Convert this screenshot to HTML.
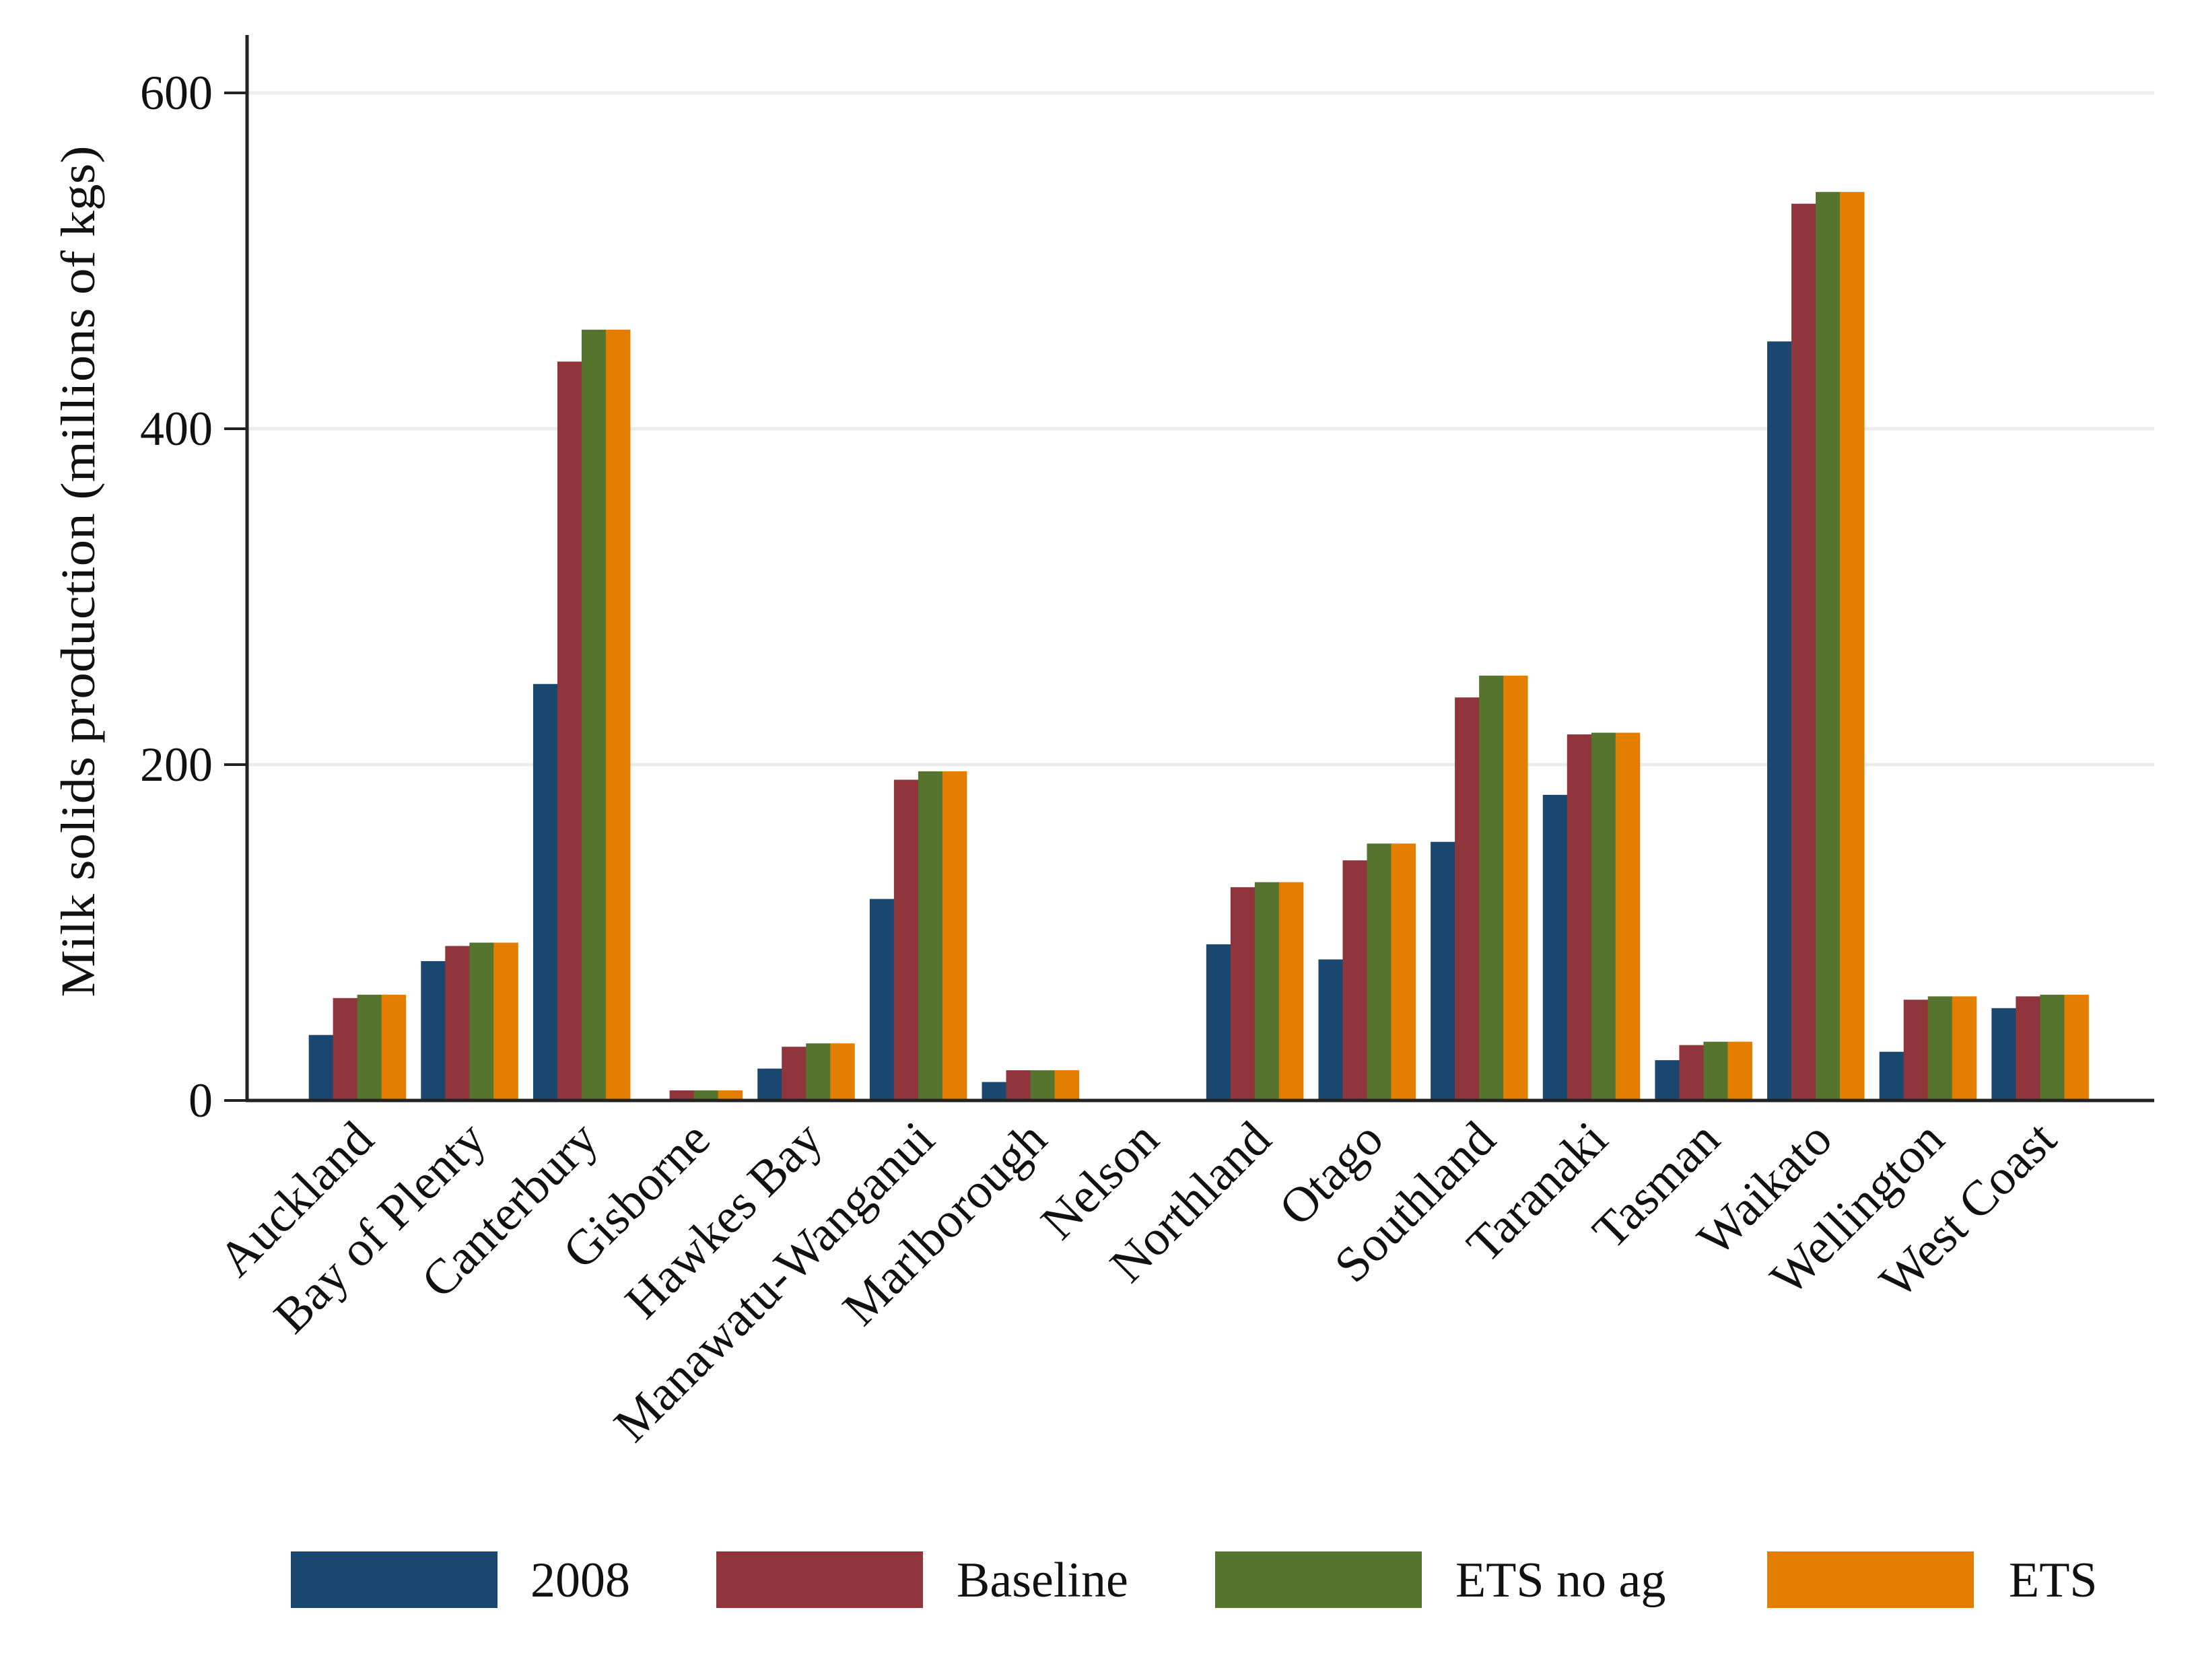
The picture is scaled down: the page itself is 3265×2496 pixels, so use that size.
<!DOCTYPE html>
<html><head><meta charset="utf-8"><style>
html,body{margin:0;padding:0;background:#fff;}
svg{display:block;}
text{font-family:"Liberation Serif",serif;fill:#111;}
</style></head><body>
<svg id="chart" width="3265" height="2496" viewBox="0 0 3265 2496" xmlns="http://www.w3.org/2000/svg">
<rect width="3265" height="2496" fill="#fff"/>
<g id="grid"></g>
<g id="bars"></g>
<g id="axes"></g>
<g id="xlabels"></g>
<text transform="translate(140,849) rotate(-90)" text-anchor="middle" font-size="72" textLength="1265" lengthAdjust="spacingAndGlyphs">Milk solids production (millions of kgs)</text>
<g id="legend"></g>
</svg>
<script>
const categories = ["Auckland","Bay of Plenty","Canterbury","Gisborne","Hawkes Bay","Manawatu-Wanganui","Marlborough","Nelson","Northland","Otago","Southland","Taranaki","Tasman","Waikato","Wellington","West Coast"];
const series2008 = [39,83,248,1,19,120,11,0,93,84,154,182,24,452,29,55];
const seriesBaseline = [61,92,440,6,32,191,18,0,127,143,240,218,33,534,60,62];
const seriesEtsNoAg = [63,94,459,6,34,196,18,0,130,153,253,219,35,541,62,63];
const seriesEts = [63,94,459,6,34,196,18,0,130,153,253,219,35,541,62,63];
const seriesNames = ["2008","Baseline","ETS no ag","ETS"];
const seriesColors = ["#1a476f","#90353b","#55752f","#e37e00"];
const yTicks = [0,200,400,600];

const NS="http://www.w3.org/2000/svg";
const X0=367, X1=3200, Y0=1635, PXPER=2.495;
const y = v => Y0 - v*PXPER;
const band = (X1-X0)/17;
const xc = i => X0 + band*(i+1) - 3;
const barW = 36;
function mk(tag, attrs, parent){const e=document.createElementNS(NS,tag);for(const k in attrs)e.setAttribute(k,attrs[k]);parent.appendChild(e);return e;}

const grid=document.getElementById('grid'), axes=document.getElementById('axes'), bars=document.getElementById('bars'), xl=document.getElementById('xlabels'), lg=document.getElementById('legend');

yTicks.forEach(t=>{
  if(t>0){const g=mk('line',{x1:X0,x2:X1,y1:y(t),y2:y(t),stroke:'#ececec','stroke-width':5},grid);
    
    }
  const tk=mk('line',{x1:333,x2:X0,y1:y(t),y2:y(t),stroke:'#222','stroke-width':4},axes);
  
  
  const lb=mk('text',{x:316,y:y(t)+24,'text-anchor':'end','font-size':72},axes);
  lb.textContent=t;
  
  
});
const ya=mk('line',{x1:X0,x2:X0,y1:52,y2:Y0+2,stroke:'#222','stroke-width':5},axes);



const allSeries=[series2008,seriesBaseline,seriesEtsNoAg,seriesEts];
categories.forEach((c,i)=>{
  allSeries.forEach((s,j)=>{
    const v=s[i]; const top=y(v);
    const r=mk('rect',{x:xc(i)-2*barW+j*barW,y:top,width:barW+0.5,height:Y0-top,fill:seriesColors[j]},bars);
    
    
  });
  const t=mk('text',{transform:`translate(${xc(i)+28},${Y0+62}) rotate(-45)`,'text-anchor':'end','font-size':74},xl);
  t.textContent=c;
  
  
});
const xa=mk('line',{x1:X0-2,x2:X1,y1:Y0,y2:Y0,stroke:'#222','stroke-width':5},axes);



const swX=[432,1064,1805,2625], txX=[788,1421,2162,2984];
seriesNames.forEach((n,j)=>{
  const g=mk('g',{},lg);
  
  
  mk('rect',{x:swX[j],y:2305,width:307,height:84,fill:seriesColors[j]},g);
  const t=mk('text',{x:txX[j],y:2372,'font-size':74},g);
  t.textContent=n;
});
</script>
</body></html>
